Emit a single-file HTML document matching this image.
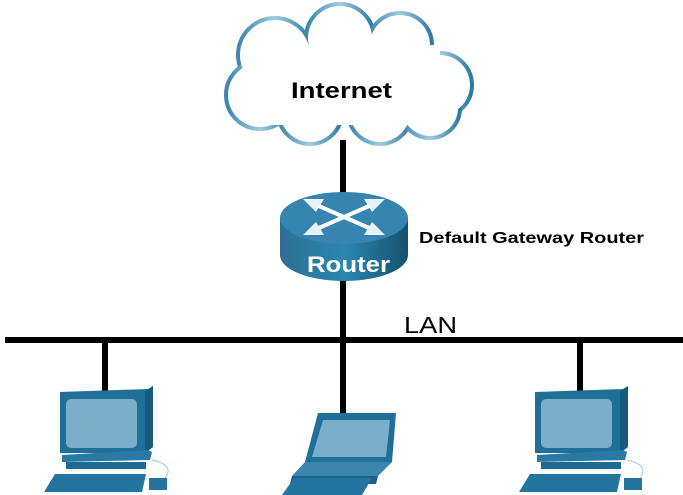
<!DOCTYPE html>
<html><head><style>
body{margin:0;background:#fff;width:683px;height:495px;overflow:hidden}
svg{display:block}
text{font-family:"Liberation Sans",sans-serif}
</style></head><body>
<svg width="683" height="495" viewBox="0 0 683 495">
<defs>
<linearGradient id="cg" x1="0" y1="0" x2="1" y2="0">
<stop offset="0" stop-color="#3f88b0"/><stop offset="0.5" stop-color="#9fcbe0"/><stop offset="1" stop-color="#2e7ba6"/></linearGradient>
<linearGradient id="rg" x1="0" y1="0" x2="1" y2="0">
<stop offset="0" stop-color="#2d6f93"/><stop offset="0.5" stop-color="#2a86b0"/><stop offset="1" stop-color="#16506e"/></linearGradient>
</defs>
<rect x="340" y="140" width="6" height="200" fill="#000"/>
<rect x="5" y="337" width="678" height="6" fill="#000"/>
<rect x="102" y="340" width="6" height="52" fill="#000"/>
<rect x="577" y="340" width="6" height="52" fill="#000"/>
<rect x="340" y="340" width="6" height="75" fill="#000"/>
<g stroke="url(#cg)" stroke-width="8" fill="#fff">
<circle cx="275" cy="55" r="35"/><circle cx="340" cy="38" r="32"/><circle cx="400" cy="45" r="30"/>
<circle cx="440" cy="85" r="30"/><circle cx="260" cy="95" r="32"/><circle cx="310" cy="112" r="30"/>
<circle cx="380" cy="112" r="30"/><circle cx="430" cy="108" r="28"/>
</g>
<g fill="#fff">
<circle cx="275" cy="55" r="35"/><circle cx="340" cy="38" r="32"/><circle cx="400" cy="45" r="30"/>
<circle cx="440" cy="85" r="30"/><circle cx="260" cy="95" r="32"/><circle cx="310" cy="112" r="30"/>
<circle cx="380" cy="112" r="30"/><circle cx="430" cy="108" r="28"/>
<rect x="260" y="45" width="180" height="80"/>
</g>
<text x="291" y="98" font-size="22" font-weight="bold" textLength="101" lengthAdjust="spacingAndGlyphs">Internet</text>
<path d="M280 218 L280 255 A64 26 0 0 0 408 255 L408 218 Z" fill="url(#rg)"/>
<ellipse cx="344" cy="218" rx="64" ry="26" fill="#3585b0"/>
<g stroke="#fff" stroke-width="4">
<line x1="312" y1="203" x2="376" y2="231"/><line x1="376" y1="203" x2="312" y2="231"/>
</g>
<g fill="#e8f2f8">
<polygon points="303,199 324,199 316,212"/><polygon points="385,199 364,199 372,212"/>
<polygon points="303,235 324,235 316,222"/><polygon points="385,235 364,235 372,222"/>
</g>
<text x="307" y="272" font-size="22" font-weight="bold" fill="#fff" textLength="83" lengthAdjust="spacingAndGlyphs">Router</text>
<text x="419" y="243" font-size="16" font-weight="bold" textLength="225" lengthAdjust="spacingAndGlyphs">Default Gateway Router</text>
<text x="404" y="333" font-size="23" textLength="53" lengthAdjust="spacingAndGlyphs">LAN</text>
<g id="pc">
<polygon points="60,392 148,389 153,386 153,447 145,453 60,453" fill="#1f6f99"/>
<polygon points="145,392 153,386 153,447 145,453" fill="#165a7e"/>
<rect x="66" y="399" width="71" height="49" rx="5" fill="#7aaecb"/>
<polygon points="62,455 148,450 152,452 150,460 62,462" fill="#2a79a3"/>
<rect x="66" y="462" width="80" height="7" fill="#1d6a93"/>
<polygon points="55,474 146,474 142,492 44,492" fill="#2474a0"/>
<path d="M152 460 Q175 465 165 478" stroke="#9cc6dc" fill="none" stroke-width="1"/>
<rect x="149" y="478" width="18" height="12" fill="#2474a0"/>
</g>
<use href="#pc" x="475"/>
<polygon points="318,413 396,413 392,462 305,462" fill="#1f6f99"/>
<polygon points="323,420 390,420 386,457 312,457" fill="#7aaecb"/>
<polygon points="305,462 392,462 378,476 292,476" fill="#3b86ad"/>
<polygon points="292,476 378,476 376,484 290,484" fill="#1b628a"/>
<polygon points="294,478 372,478 362,495 282,495" fill="#2474a0"/>
</svg>
</body></html>
